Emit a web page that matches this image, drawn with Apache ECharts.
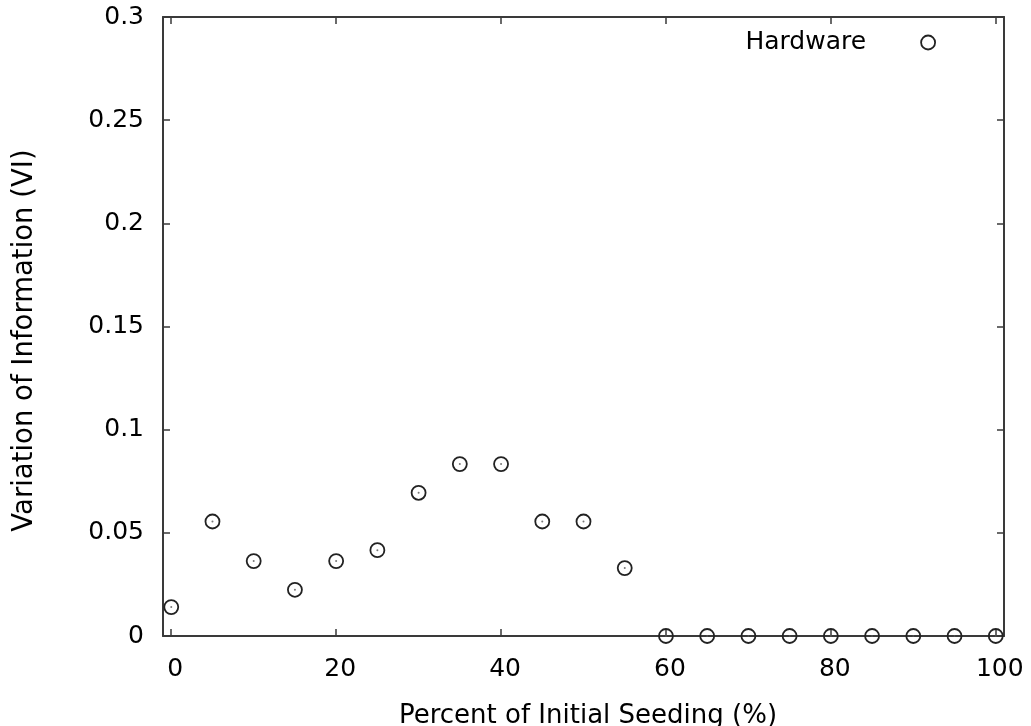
<!DOCTYPE html>
<html><head><meta charset="utf-8">
<script src="https://cdn.jsdelivr.net/npm/echarts@6/dist/echarts.min.js"></script>
<style>html,body{margin:0;padding:0;background:#fff}#c{width:1031px;height:726px}</style>
</head><body><div id="c"></div>
<script>
const seeding = [0,5,10,15,20,25,30,35,40,45,50,55,60,65,70,75,80,85,90,95,100];
const viValues = [0.0140,0.0555,0.0363,0.0224,0.0363,0.0416,0.0694,0.0833,0.0833,0.0555,0.0555,0.0329,0,0,0,0,0,0,0,0,0];
const xTicks = [0,20,40,60,80,100];
const seriesName = 'Hardware';
const xTitle = 'Percent of Initial Seeding (%)';
const yTitle = 'Variation of Information (VI)';

const pts = seeding.map((x,i)=>[x, viValues[i]]);
const font = 'DejaVu Sans, sans-serif';
const fs = 25;
const axisColor = '#3a3a3a';
const chart = echarts.init(document.getElementById('c'));
const tickStyle = {show:true, inside:true, length:7, lineStyle:{color:axisColor, width:1.5}};
const lineStyle = {show:true, onZero:false, lineStyle:{color:axisColor, width:2}};
chart.setOption({
  animation:false,
  backgroundColor:'#fff',
  grid:{left:163, right:27, top:17, bottom:90, containLabel:false, outerBoundsMode:'none'},
  legend:{
    data:[seriesName], right:90, top:25, align:'right', itemWidth:114, itemHeight:14,
    icon:'circle',
    textStyle:{fontFamily:font, fontSize:fs, color:'#000'},
    itemStyle:{color:'rgba(255,255,255,0)', borderColor:'#222', borderWidth:1.8}
  },
  xAxis:[{
    type:'value', min:-1, max:101,
    name:xTitle, nameLocation:'middle', nameGap:67,
    nameTextStyle:{fontFamily:font, fontSize:26, color:'#000', padding:[0,0,0,9]},
    axisLine:lineStyle,
    axisTick:Object.assign({}, tickStyle, {customValues:xTicks}),
    axisLabel:{fontFamily:font, fontSize:fs, color:'#000', margin:21, padding:[0,0,0,8],
      customValues:xTicks},
    splitLine:{show:false}
  },{
    type:'value', position:'top', min:-1, max:101,
    axisLine:lineStyle,
    axisTick:Object.assign({}, tickStyle, {customValues:xTicks}),
    axisLabel:{show:false}, splitLine:{show:false}
  }],
  yAxis:[{
    type:'value', min:0, max:0.3, interval:0.05,
    name:yTitle, nameLocation:'middle', nameGap:124, nameRotate:90,
    nameTextStyle:{fontFamily:font, fontSize:27.5, color:'#000', padding:[0,28,0,0]},
    axisLine:lineStyle,
    axisTick:tickStyle,
    axisLabel:{fontFamily:font, fontSize:fs, color:'#000', margin:19,
      formatter:v=>String(Math.round(v*100)/100)},
    splitLine:{show:false}
  },{
    type:'value', position:'right', min:0, max:0.3, interval:0.05,
    axisLine:lineStyle,
    axisTick:tickStyle, axisLabel:{show:false}, splitLine:{show:false}
  }],
  series:[{
    name:seriesName, type:'scatter', data:pts, symbol:'circle', symbolSize:14,
    itemStyle:{color:'rgba(255,255,255,0)', borderColor:'#222', borderWidth:1.8, opacity:1},
    z:3
  },{
    name:'dot', type:'scatter', data:pts, symbol:'circle', symbolSize:2,
    itemStyle:{color:'#555'}, z:4, silent:true
  }]
});
</script></body></html>
